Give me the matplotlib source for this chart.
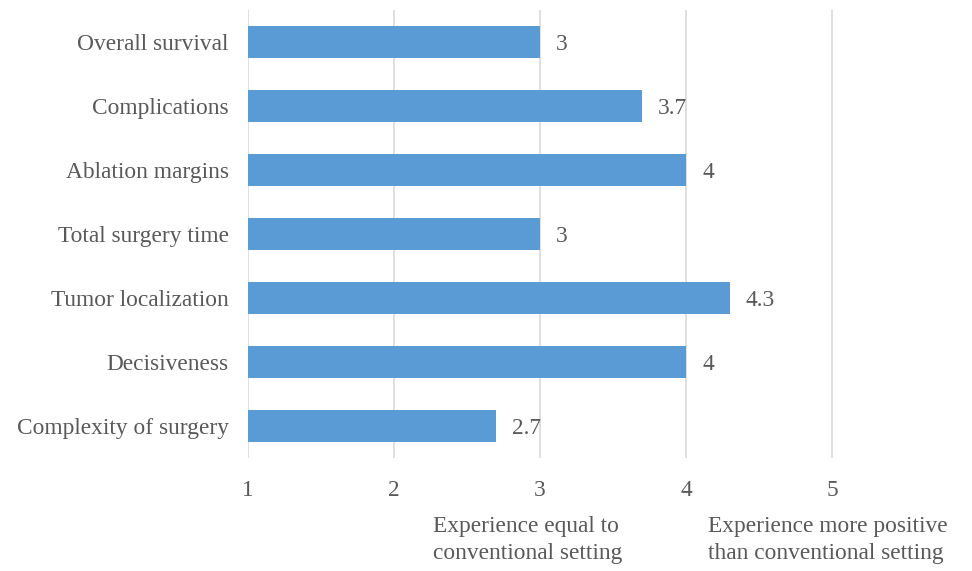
import matplotlib.pyplot as plt

categories = ["Overall survival", "Complications", "Ablation margins",
              "Total surgery time", "Tumor localization", "Decisiveness",
              "Complexity of surgery"]
values = [3, 3.7, 4, 3, 4.3, 4, 2.7]
value_labels = ["3", "3.7", "4", "3", "4.3", "4", "2.7"]
ticks = [1, 2, 3, 4, 5]

plt.rcParams['font.family'] = ['Liberation Serif', 'DejaVu Serif']
grey = '#595959'
fs = 16.8

fig = plt.figure(figsize=(9.72, 5.71), dpi=100)
ax = fig.add_axes([248/972, 113/571, 712/972, 448/571])

ypos = list(range(len(categories)))
ax.barh(ypos, [v - 1 for v in values], left=1, height=0.5, color='#5B9BD5', zorder=2)
for y, v, lab in zip(ypos, values, value_labels):
    ax.text(v + 0.11, y, lab, va='center_baseline', ha='left', fontsize=fs, color=grey)

ax.set_xlim(1, 1 + 712/146)
ax.set_ylim(len(categories) - 0.5, -0.5)
ax.set_yticks(ypos)
ax.set_yticklabels(categories, fontsize=fs, color=grey, va='center_baseline')
ax.set_xticks(ticks)
ax.set_xticklabels([str(t) for t in ticks], fontsize=fs, color=grey)
ax.tick_params(axis='both', length=0)
ax.tick_params(axis='x', pad=16)
ax.tick_params(axis='y', pad=14)
ax.grid(axis='x', color='#d9d9d9', lw=1.2, zorder=0)
for s in ax.spines.values():
    s.set_visible(False)

fig.text(433/972, 1 - 540/571, "Experience equal to\nconventional setting",
         fontsize=fs, color=grey, va='center', ha='left', linespacing=1.35)
fig.text(708/972, 1 - 540/571, "Experience more positive\nthan conventional setting",
         fontsize=fs, color=grey, va='center', ha='left', linespacing=1.35)

fig.savefig("out.png", dpi=100)
